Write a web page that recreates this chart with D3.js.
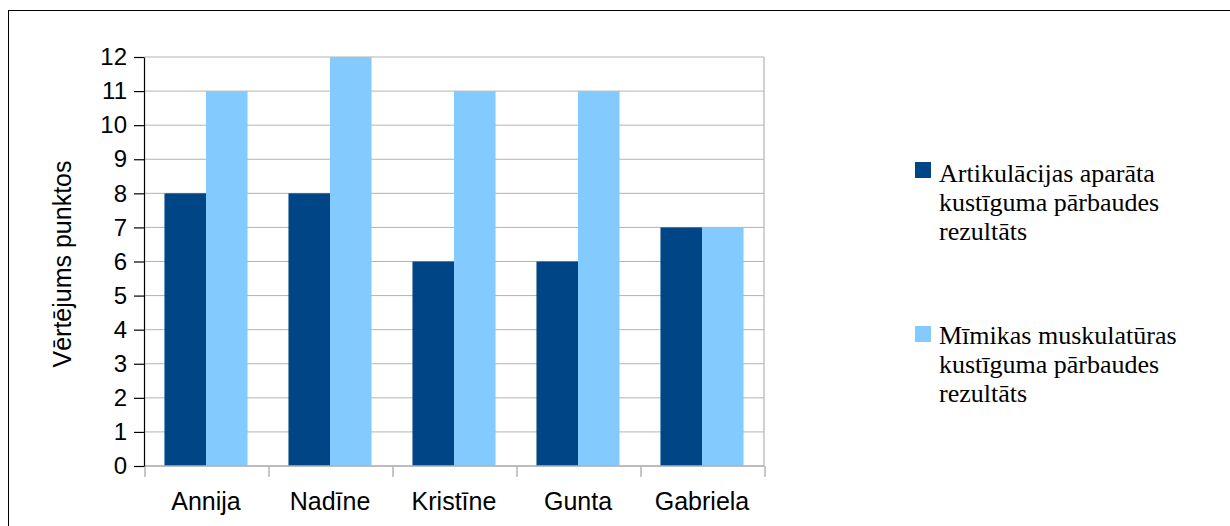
<!DOCTYPE html>
<html>
<head>
<meta charset="utf-8">
<script src="https://cdn.jsdelivr.net/npm/d3@7"></script>
<style>
  html, body { margin: 0; padding: 0; background: #fff; }
  svg { display: block; }
</style>
</head>
<body>
<svg id="chart" width="1230" height="526"></svg>
<script>
// Participants and their two test scores
const categories = ["Annija", "Nadīne", "Kristīne", "Gunta", "Gabriela"];
const articulationScores = [8, 8, 6, 6, 7];
const mimicScores = [11, 12, 11, 11, 7];
const seriesNames = [
  ["Artikulācijas aparāta", "kustīguma pārbaudes", "rezultāts"],
  ["Mīmikas muskulatūras", "kustīguma pārbaudes", "rezultāts"]
];
const seriesColors = ["#004586", "#83caff"];
const yTicks = [0, 1, 2, 3, 4, 5, 6, 7, 8, 9, 10, 11, 12];
const yTitle = "Vērtējums punktos";

const svg = d3.select("#chart");
const W = 1230, H = 526;

// outer frame
svg.append("rect")
  .attr("x", 8.5).attr("y", 10.5)
  .attr("width", W + 10).attr("height", H + 10)
  .attr("fill", "none").attr("stroke", "#000").attr("stroke-width", 1);

const plot = { left: 144, right: 764, top: 57, bottom: 466 };

const x = d3.scaleBand().domain(categories).range([plot.left, plot.right]).padding(0);
const groupFrac = 0.67;
const xs = d3.scaleBand().domain([0, 1])
  .range([0, x.bandwidth() * groupFrac]).padding(0);
const groupOffset = x.bandwidth() * (1 - groupFrac) / 2;

const y = d3.scaleLinear().domain([0, 12]).range([plot.bottom, plot.top]);

const sans = "'Liberation Sans', Arial, sans-serif";
const serif = "'Liberation Serif', 'Times New Roman', serif";

// horizontal gridlines
svg.append("g").selectAll("line").data(yTicks).join("line")
  .attr("x1", plot.left).attr("x2", plot.right)
  .attr("y1", d => y(d)).attr("y2", d => y(d))
  .attr("stroke", "#b3b3b3").attr("stroke-width", 1);

// right plot edge
svg.append("line")
  .attr("x1", plot.right).attr("x2", plot.right)
  .attr("y1", plot.top).attr("y2", plot.bottom)
  .attr("stroke", "#b3b3b3").attr("stroke-width", 1.2);

// bars
const series = [articulationScores, mimicScores];
series.forEach((vals, si) => {
  svg.append("g").selectAll("rect").data(categories).join("rect")
    .attr("x", (c) => x(c) + groupOffset + xs(si))
    .attr("y", (c, i) => y(vals[i]))
    .attr("width", xs.bandwidth())
    .attr("height", (c, i) => y(0) - y(vals[i]))
    .attr("fill", seriesColors[si]);
});

// x axis: gray baseline with ticks at category boundaries
const xAxisG = svg.append("g");
xAxisG.append("line")
  .attr("x1", plot.left).attr("x2", plot.right)
  .attr("y1", plot.bottom).attr("y2", plot.bottom)
  .attr("stroke", "#b3b3b3").attr("stroke-width", 1.5);
const boundaries = categories.map(c => x(c)).concat([x(categories[categories.length - 1]) + x.bandwidth()]);
xAxisG.selectAll("line.tick").data(boundaries).join("line")
  .attr("class", "tick")
  .attr("x1", d => d + 1).attr("x2", d => d + 1)
  .attr("y1", plot.bottom).attr("y2", plot.bottom + 11)
  .attr("stroke", "#b3b3b3").attr("stroke-width", 1.5);
xAxisG.selectAll("text").data(categories).join("text")
  .attr("x", c => x(c) + x.bandwidth() / 2)
  .attr("y", 510)
  .attr("text-anchor", "middle")
  .attr("font-family", sans).attr("font-size", 25)
  .attr("fill", "#000")
  .text(c => c);

// y axis
const yAxis = d3.axisLeft(y).tickValues(yTicks).tickSize(10).tickPadding(7).tickSizeOuter(0);
const yAxisG = svg.append("g").attr("transform", `translate(${plot.left},0)`).call(yAxis);
yAxisG.select(".domain").attr("stroke", "#000").attr("stroke-width", 1.2);
yAxisG.selectAll(".tick line").attr("stroke", "#000").attr("stroke-width", 1.2);
yAxisG.selectAll(".tick text")
  .attr("font-family", sans).attr("font-size", 24).attr("fill", "#000");

// y title
svg.append("text")
  .attr("transform", "translate(71,264) rotate(-90)")
  .attr("text-anchor", "middle")
  .attr("font-family", sans).attr("font-size", 25)
  .attr("fill", "#000")
  .text(yTitle);

// legend
const legendTops = [162, 326];
const legendBaselines = [182, 344];
seriesNames.forEach((lines, i) => {
  const g = svg.append("g");
  g.append("rect")
    .attr("x", 915).attr("y", legendTops[i])
    .attr("width", 16).attr("height", 16)
    .attr("fill", seriesColors[i]);
  g.selectAll("text").data(lines).join("text")
    .attr("x", 939)
    .attr("y", (d, j) => legendBaselines[i] + j * 29)
    .attr("font-family", serif).attr("font-size", 26)
    .attr("fill", "#000")
    .text(d => d);
});
</script>
</body>
</html>
